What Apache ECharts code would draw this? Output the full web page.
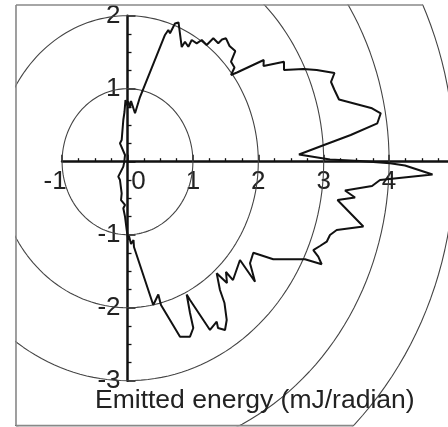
<!DOCTYPE html>
<html><head><meta charset="utf-8">
<script src="https://cdn.jsdelivr.net/npm/echarts@6/dist/echarts.min.js"></script>
<style>html,body{margin:0;padding:0;background:#fff}#c{width:448px;height:427px}</style>
</head><body><div id="c"></div>
<script>
// Emitted energy curve (data units, mJ/radian), traced counter-clockwise from the bottom
const emitX = [0.012,0.023,0.054,0.092,0.099,0.394,0.471,0.512,0.803,0.956,1.006,0.956,0.905,0.956,1.261,1.364,1.384,1.491,1.517,1.483,1.414,1.364,1.521,1.506,1.613,1.720,1.950,1.873,1.924,2.229,2.714,2.969,2.917,2.841,2.943,3.046,3.096,3.199,3.606,3.211,3.479,3.326,3.739,3.861,4.664,4.243,4.014,3.555,3.096,2.622,3.005,3.413,3.820,3.872,3.739,3.234,3.165,3.112,3.165,2.893,2.688,2.393,2.393,2.080,2.083,1.674,1.583,1.636,1.583,1.648,1.560,1.590,1.506,1.445,1.388,1.312,1.211,1.135,1.058,0.982,0.930,0.879,0.829,0.780,0.726,0.650,0.624,0.573,0.191,0.115,0.054,0.038,0.012,-0.012,-0.031,-0.046,-0.064,-0.089,-0.115,-0.038,-0.049,-0.064,-0.141,-0.115,-0.089,-0.099,-0.038,-0.064,-0.038,-0.012,0.012];
const emitY = [-1.073,-1.018,-1.127,-1.073,-1.168,-1.963,-1.819,-1.963,-2.397,-2.397,-2.278,-2.073,-1.819,-1.895,-2.305,-2.192,-2.278,-2.305,-2.168,-1.936,-1.758,-1.529,-1.662,-1.511,-1.621,-1.347,-1.644,-1.392,-1.247,-1.337,-1.337,-1.405,-1.301,-1.210,-1.155,-1.096,-1.004,-0.936,-0.888,-0.525,-0.490,-0.395,-0.333,-0.251,-0.175,-0.052,-0.022,0.010,0.030,0.099,0.229,0.366,0.526,0.663,0.732,0.852,0.982,1.092,1.215,1.256,1.270,1.256,1.370,1.311,1.393,1.222,1.188,1.290,1.370,1.516,1.585,1.612,1.690,1.674,1.622,1.690,1.599,1.667,1.622,1.667,1.575,1.644,1.571,1.907,1.893,1.759,1.804,1.736,0.886,0.663,0.832,0.736,0.825,0.777,0.845,0.681,0.571,0.297,0.252,0.092,0.000,-0.068,-0.205,-0.251,-0.433,-0.525,-0.593,-0.638,-0.753,-0.936,-1.073];
const ringRadii = [1, 2, 3, 4, 5];
const xRange = [-1, 5.2];
const yRange = [-3, 2];
const frameX = [-1.705, 4.9];
const frameY = [-3.616, 2.147];
const axisTitle = 'Emitted energy (mJ/radian)';

// layout constants (pixels)
const W = 448, H = 427, X0 = 127.5, Y0 = 161.7, UX = 65.4, UY = 73;
const FONT = '"Liberation Sans", Arial, sans-serif';
const outerR = ringRadii[ringRadii.length - 1];

function ring(r) {
  const pts = [];
  for (let a = 0; a <= 360; a += 2) {
    const t = a * Math.PI / 180;
    pts.push([r * Math.cos(t), r * Math.sin(t)]);
  }
  return pts;
}
const frameXMax = (W - X0) / UX;
const topEnd = Math.sqrt(outerR * outerR - frameY[1] * frameY[1]);
const botEnd = Math.sqrt(outerR * outerR - frameY[0] * frameY[0]);

const series = [];
ringRadii.forEach(r => series.push({
  type: 'line', xAxisIndex: 0, yAxisIndex: 0, data: ring(r), symbol: 'none',
  clip: true, silent: true, lineStyle: { color: '#444', width: 1.1 }, z: 2
}));
const frameStyle = { color: '#888', width: 1.6 };
[[[frameX[0], frameY[0]], [frameX[0], frameY[1]]],
 [[frameX[0], frameY[1]], [topEnd, frameY[1]]],
 [[frameX[0], frameY[0]], [botEnd, frameY[0]]]].forEach(d => series.push({
  type: 'line', xAxisIndex: 0, yAxisIndex: 0, symbol: 'none', clip: false, silent: true,
  data: d, lineStyle: frameStyle, z: 2 }));
series.push({ type: 'line', xAxisIndex: 0, yAxisIndex: 0, symbol: 'none', clip: false, silent: true,
  data: emitX.map((x, i) => [x, emitY[i]]), lineStyle: { color: '#111', width: 2 }, z: 10 });

const lblFont = { fontFamily: FONT, fontSize: 26, color: '#222' };
const gridBase = { containLabel: false, outerBoundsMode: 'none' };
const chart = echarts.init(document.getElementById('c'), null, { renderer: 'canvas' });
chart.setOption({
  animation: false,
  backgroundColor: '#fff',
  title: { text: axisTitle, left: 95, top: 388, padding: 0,
    textStyle: { fontFamily: FONT, fontSize: 26.5, fontWeight: 'normal', color: '#222', lineHeight: 26 } },
  grid: [
    Object.assign({ left: X0 + frameX[0] * UX, top: Y0 - frameY[1] * UY, width: (frameXMax - frameX[0]) * UX, height: (frameY[1] - frameY[0]) * UY }, gridBase),
    Object.assign({ left: X0 + xRange[0] * UX, top: Y0 - 50, width: (xRange[1] - xRange[0]) * UX, height: 50 }, gridBase),
    Object.assign({ left: X0, top: Y0 - yRange[1] * UY, width: 100, height: (yRange[1] - yRange[0]) * UY }, gridBase)
  ],
  xAxis: [
    { type: 'value', gridIndex: 0, min: frameX[0], max: frameXMax, show: false },
    { type: 'value', gridIndex: 1, position: 'bottom', min: xRange[0], max: xRange[1], interval: 1,
      axisLine: { onZero: false, lineStyle: { color: '#111', width: 2.5 } },
      axisTick: { inside: true, length: 7, lineStyle: { color: '#111', width: 1.5 } },
      minorTick: { show: true, splitNumber: 4, length: 3.5, lineStyle: { color: '#111', width: 1.3 } },
      splitLine: { show: false },
      axisLabel: Object.assign({ margin: 7, showMaxLabel: false, hideOverlap: false,
        formatter: v => v === 0 ? '{z|0}' : (v === -1 ? '{n|-1}' : String(v)),
        rich: { z: Object.assign({ padding: [0, 0, 0, 22] }, lblFont), n: Object.assign({ padding: [0, 14, 0, 0] }, lblFont) } }, lblFont) },
    { type: 'value', gridIndex: 2, min: 0, max: 1, show: false }
  ],
  yAxis: [
    { type: 'value', gridIndex: 0, min: frameY[0], max: frameY[1], show: false },
    { type: 'value', gridIndex: 1, min: 0, max: 1, show: false },
    { type: 'value', gridIndex: 2, position: 'left', min: yRange[0], max: yRange[1], interval: 1,
      axisLine: { onZero: false, lineStyle: { color: '#111', width: 2.5 } },
      axisTick: { inside: true, length: 8, lineStyle: { color: '#111', width: 1.5 } },
      minorTick: { show: true, splitNumber: 4, length: 4, lineStyle: { color: '#111', width: 1.3 } },
      splitLine: { show: false },
      axisLabel: Object.assign({ margin: 7, formatter: v => v === 0 ? '' : String(v) }, lblFont) }
  ],
  series: series
});
</script></body></html>
